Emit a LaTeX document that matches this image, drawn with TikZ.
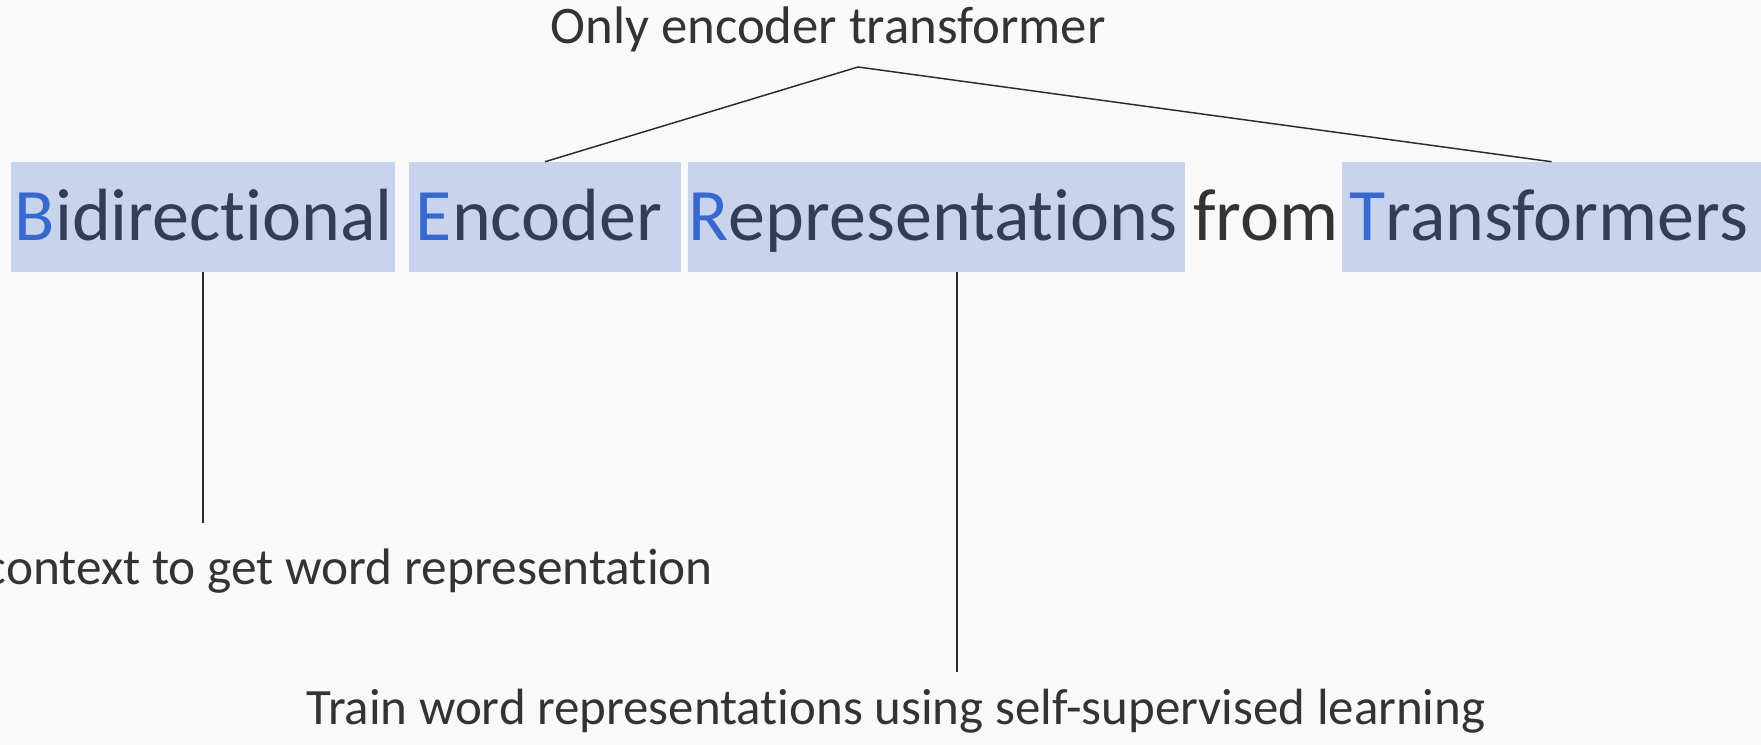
\documentclass[tikz,border=0pt]{standalone}
\usepackage{fontspec}
\setmainfont{Carlito}[Ligatures={NoCommon,NoRare,NoContextual}]
\usetikzlibrary{fit}

\definecolor{pagebg}{HTML}{F9F9F9}
\definecolor{boxblue}{HTML}{C8D4EE}
\definecolor{wordink}{HTML}{323E55}
\definecolor{initial}{HTML}{3868CE}
\definecolor{plainink}{HTML}{333333}
\definecolor{linkink}{HTML}{2A2A2A}

\newcommand{\bigwords}{\fontsize{55.5}{60}\selectfont}
\newcommand{\notewords}{\fontsize{38.5}{44}\selectfont}
\newcommand{\initl}[1]{\textcolor{initial}{#1}}

\tikzset{
  wordbox/.style={fill=boxblue, draw=none, inner sep=0pt},
  word/.style={anchor=base, inner sep=0pt, font=\bigwords, text=wordink},
  plainword/.style={anchor=base, inner sep=0pt, font=\bigwords, text=plainink},
  note/.style={inner sep=0pt, font=\notewords, text=plainink},
  link/.style={draw=linkink, line width=1.1pt}
}

\begin{document}
\begin{tikzpicture}[x=0.75pt, y=-0.75pt]
  % canvas
  \useasboundingbox (0,0) rectangle (1761,745);
  \fill[pagebg] (0,0) rectangle (1761,745);
  \clip (0,0) rectangle (1761,745);

  % highlighted word boxes
  \node[wordbox, fit={(11,162) (395,272)}]   (bid) {};
  \node[wordbox, fit={(409,162) (681,272)}]  (enc) {};
  \node[wordbox, fit={(688,162) (1185,272)}] (rep) {};
  \node[wordbox, fit={(1342,162) (1761,272)}] (tra) {};

  % the expanded acronym
  \node[word] (bidw) at (204,241) {\initl{B}idirectional};
  \node[word] (encw) at (539,241) {\initl{E}ncoder};
  \node[word] (repw) at (933,241) {\initl{R}epresentations};
  \node[plainword] (from) at (1266,241) {from};
  \node[word] (traw) at (1549,241) {\initl{T}ransformers};

  % annotations
  \node[note, anchor=base, font=\fontsize{39.6}{44}\selectfont] (title) at (828,44) {Only encoder transformer};
  \node[note, anchor=base east] (ctx) at (713,584) {context to get word representation};
  \node[note, anchor=base, font=\fontsize{38.2}{44}\selectfont] (train) at (896,724) {Train word representations using self-supervised learning};

  % connectors
  \coordinate (apex) at (858,67);
  \coordinate (ctxend) at (203,523);
  \coordinate (repend) at (957,672);
  \draw[link] (enc.north) -- (apex) -- (tra.north);
  \draw[link] (bid.south) -- (ctxend);
  \draw[link] (rep.south -| repend) -- (repend);
\end{tikzpicture}
\end{document}
